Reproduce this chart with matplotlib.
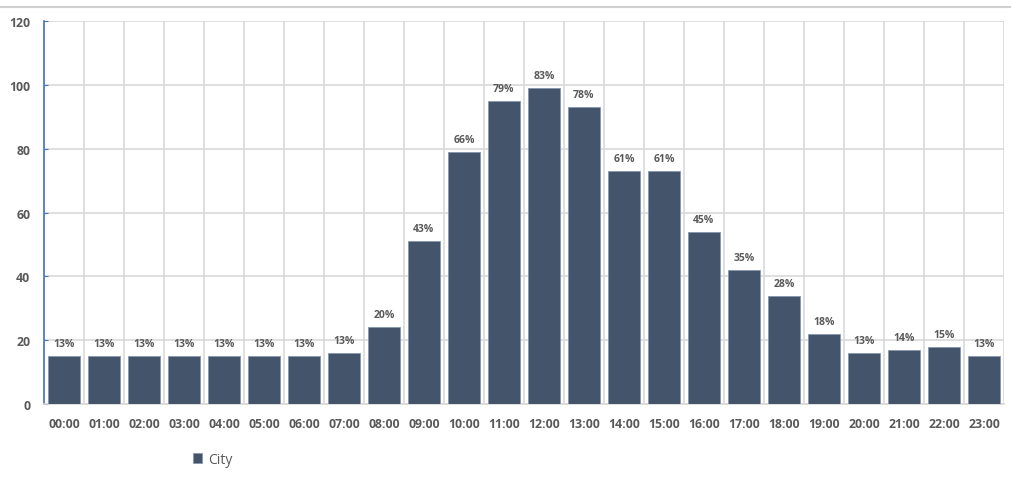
import matplotlib
matplotlib.use("Agg")
import matplotlib.pyplot as plt
from matplotlib.lines import Line2D

hours = [f"{h:02d}:00" for h in range(24)]
values = [15, 15, 15, 15, 15, 15, 15, 16, 24, 51, 79, 95,
          99, 93, 73, 73, 54, 42, 34, 22, 16, 17, 18, 15]
pct_labels = ["13%", "13%", "13%", "13%", "13%", "13%", "13%", "13%",
              "20%", "43%", "66%", "79%", "83%", "78%", "61%", "61%",
              "45%", "35%", "28%", "18%", "13%", "14%", "15%", "13%"]

BAR = "#44546A"
INK = "#595959"
GRID = "#D9D9D9"

plt.rcParams.update({"font.family": ["Open Sans", "DejaVu Sans"]})
fig = plt.figure(figsize=(10.12, 4.81), dpi=100, facecolor="white")
ax = fig.add_axes([0.0435, 0.158, 0.9485, 0.796])

x = list(range(len(hours)))
bars = ax.bar(x, values, width=0.8, color=BAR, edgecolor="#8497B0",
              linewidth=0.6, zorder=3, label="City")
for b, t in zip(bars, pct_labels):
    ax.text(b.get_x() + b.get_width() / 2, b.get_height() + 2.2, t,
            ha="center", va="bottom", fontsize=7.5, fontweight="bold", color=INK)

ax.set_xlim(-0.5, 23.5)
ax.set_ylim(0, 120)
ax.set_yticks(range(0, 121, 20))
ax.set_xticks(x)
ax.set_xticklabels(hours)
ax.set_xticks([i + 0.5 for i in range(-1, 24)], minor=True)
ax.grid(which="minor", axis="x", color=GRID, linewidth=1.2, zorder=0)
ax.grid(which="major", axis="y", color=GRID, linewidth=1.2, zorder=0)
ax.tick_params(axis="x", which="both", length=0, pad=9, labelsize=8.8,
               labelcolor=INK)
ax.tick_params(axis="y", direction="in", length=3, color="#4472C4",
               pad=10, labelsize=8.8, labelcolor=INK)
for lab in ax.get_xticklabels() + ax.get_yticklabels():
    lab.set_fontweight("bold")

for s in ("top", "right"):
    ax.spines[s].set_visible(False)
ax.spines["left"].set_color("#4472C4")
ax.spines["left"].set_linewidth(1.2)
ax.spines["bottom"].set_color(GRID)
ax.spines["bottom"].set_linewidth(1.2)

fig.add_artist(Line2D([0, 1], [0.983, 0.983], color="#D0D0D0", linewidth=1.5,
                      transform=fig.transFigure))

fig.legend(handles=[bars], labels=["City"], loc="center left",
           bbox_to_anchor=(0.178, 0.043), frameon=False, fontsize=10,
           handlelength=0.7, handleheight=0.7, handletextpad=0.4,
           labelcolor=INK)

fig.savefig("out.png", dpi=100, facecolor="white")
